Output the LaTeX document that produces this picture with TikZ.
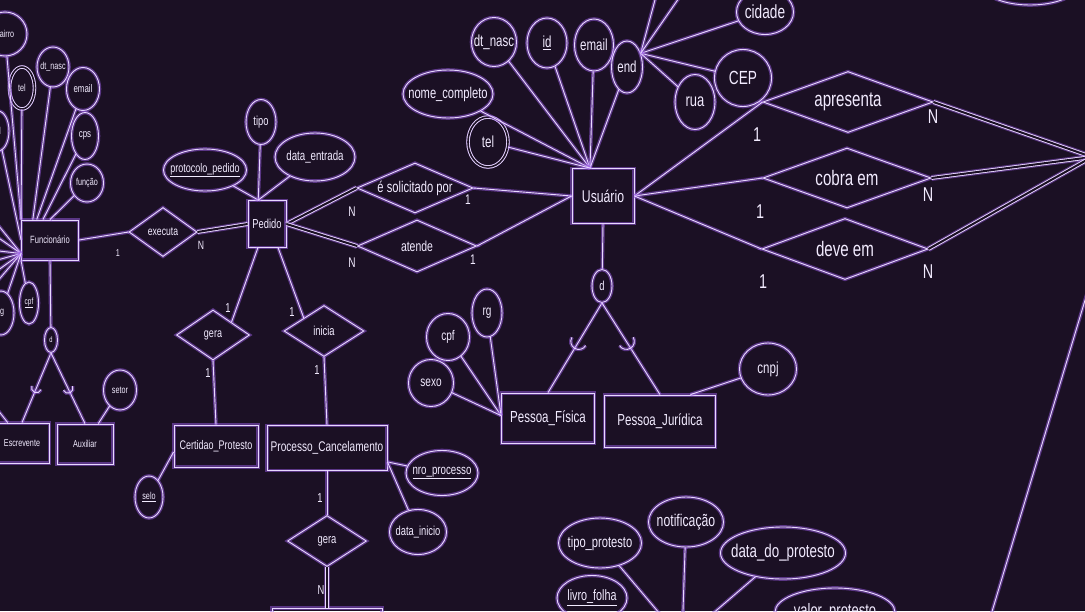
\documentclass[tikz,border=0pt]{standalone}
\usepackage{fontspec}
\setmainfont{Liberation Sans}[FakeStretch=0.72]
\usetikzlibrary{shapes.geometric, calc}
\definecolor{bgpurple}{HTML}{1B1024}
\definecolor{linelav}{HTML}{E8D8FF}
\definecolor{glowpur}{HTML}{9A5CE6}
\definecolor{txtlav}{HTML}{F2EBFF}

% subset mark: point, start angle, radius
\newcommand{\submark}[3]{%
  \draw[conn] (#1) ++(#2:#3) arc[start angle=#2, end angle=#2+180, radius=#3];}

\begin{document}
\begin{tikzpicture}[x=1pt, y=-1pt,
    box/.style={draw=linelav, line width=0.9pt, text=txtlav, inner sep=0pt,
      preaction={draw=glowpur, line width=3.6pt, opacity=.5}},
    ent/.style={box, rectangle},
    rel/.style={box, diamond, aspect=2.5},
    attr/.style={box, ellipse,
      execute at begin node={\hbox to 0pt\bgroup\hss},
      execute at end node={\hss\egroup}},
    multi/.style={attr, double=bgpurple, double distance=1.6pt},
    sz/.style 2 args={minimum width=#1, minimum height=#2},
    fs/.style={font=\fontsize{#1}{#1}\selectfont},
    card/.style={text=txtlav, inner sep=0pt},
    conn/.style={draw=linelav, line width=0.9pt,
      preaction={draw=glowpur, line width=3.6pt, opacity=.5}},
    dconn/.style={draw=linelav, line width=0.9pt, double=bgpurple, double distance=2pt,
      preaction={draw=glowpur, line width=6pt, opacity=.45}},
  ]

  % Background
  \useasboundingbox (0,0) rectangle (1085,611);
  \fill[bgpurple] (0,0) rectangle (1085,611);
  \clip (0,0) rectangle (1085,611);

  % === Entities ===
  \node[ent, sz={57}{40}, fs=10.5] (func) at (50,240) {Funcionário};
  \node[ent, sz={38}{47}, fs=13] (pedido) at (267,224) {Pedido};
  \node[ent, sz={62}{55}, fs=17] (usuario) at (603,196) {Usuário};
  \node[ent, sz={55}{40}, fs=10] (escrev) at (22,443) {Escrevente};
  \node[ent, sz={56}{40}, fs=10] (aux) at (85,444) {Auxiliar};
  \node[ent, sz={84}{42}, fs=12.5] (certidao) at (216,446) {Certidao\_Protesto};
  \node[ent, sz={120}{45}, fs=14] (processo) at (327,448) {Processo\_Cancelamento};
  \node[ent, sz={93}{50}, fs=16] (pfisica) at (548,418) {Pessoa\_Física};
  \node[ent, sz={111}{52}, fs=16] (pjuridica) at (660,421) {Pessoa\_Jurídica};
  \node[ent, sz={110}{44}] (procout) at (327,630) {};

  % === Relationships ===
  \node[rel, sz={68}{49}, fs=12] (executa) at (163,232) {executa};
  \node[rel, sz={116}{50}, fs=15.5] (solicita) at (415,188) {é solicitado por};
  \node[rel, sz={119}{52}, fs=14.5] (atende) at (417,246) {atende};
  \node[rel, sz={73}{50}, fs=12.5] (geraCert) at (213,335) {gera};
  \node[rel, sz={80}{51}, fs=13] (inicia) at (324,331) {inicia};
  \node[rel, sz={79}{51}, fs=13] (geraProc) at (327,541) {gera};
  \node[rel, sz={170}{61}, fs=21] (apresenta) at (848,102) {apresenta};
  \node[rel, sz={168}{60}, fs=21] (cobra) at (847,178) {cobra em};
  \node[rel, sz={166}{61}, fs=21] (deve) at (845,249) {deve em};

  % === Usuario attributes ===
  \node[attr, sz={45}{49}, fs=16] (uNasc) at (494,42) {dt\_nasc};
  \node[attr, sz={40}{50}, fs=16] (uId) at (547,43) {\underline{id}};
  \node[attr, sz={39}{52}, fs=16] (uEmail) at (594,45) {email};
  \node[attr, sz={31}{52}, fs=16] (uEnd) at (627,67) {end};
  \node[attr, sz={90}{48}, fs=15.5] (uNome) at (448,94) {nome\_completo};
  \node[multi, sz={40}{50}, fs=16] (uTel) at (488,142) {tel};
  \node[attr, sz={57}{45}, fs=19] (uCidade) at (765,12) {cidade};
  \node[attr, sz={57}{57}, fs=19] (uCep) at (743,78) {CEP};
  \node[attr, sz={40}{55}, fs=18] (uRua) at (695,102) {rua};
  \coordinate (uEndA) at (659,-15);
  \coordinate (uEndB) at (688,-15);

  % === Pedido attributes ===
  \node[attr, sz={83}{42}, fs=12.5] (pProt) at (205,170) {\underline{protocolo\_pedido}};
  \node[attr, sz={30}{45}, fs=13] (pTipo) at (261,122) {tipo};
  \node[attr, sz={80}{48}, fs=13.5] (pData) at (315,157) {data\_entrada};

  % === Funcionario attributes ===
  \node[attr, sz={44}{44}, fs=10] (fBairro) at (5,34) {bairro};
  \node[multi, sz={25}{42}, fs=10] (fTel) at (22,88) {tel};
  \node[attr, sz={32}{40}, fs=10] (fNasc) at (53,67) {dt\_nasc};
  \node[attr, sz={33}{43}, fs=11] (fEmail) at (83,89) {email};
  \node[attr, sz={27}{47}, fs=11] (fCps) at (85,136) {cps};
  \node[attr, sz={33}{38}, fs=10] (fFuncao) at (87,183) {função};
  \node[attr, sz={22}{40}, fs=10] (fId) at (-2,131) {id};
  \node[attr, sz={19}{42}, fs=9] (fCpf) at (29,303) {\underline{cpf}};
  \node[attr, sz={26}{44}, fs=10] (fRg) at (1,313) {rg};
  \node[attr, sz={13}{25}, fs=8] (fD) at (51,340) {d};
  \node[attr, sz={33}{40}, fs=10] (fSetor) at (120,390) {setor};

  % === other attributes ===
  \node[attr, sz={28}{42}, fs=10] (cSelo) at (149,497) {\underline{selo}};
  \node[attr, sz={72}{45}, fs=13.5] (pNro) at (442,473) {\underline{nro\_processo}};
  \node[attr, sz={57}{45}, fs=13] (pIni) at (418,532) {data\_inicio};
  \node[attr, sz={20}{33}, fs=13] (ud) at (602,286) {d};
  \node[attr, sz={43}{47}, fs=14] (pfCpf) at (448,337) {cpf};
  \node[attr, sz={30}{48}, fs=14] (pfRg) at (487,313) {rg};
  \node[attr, sz={45}{47}, fs=14] (pfSexo) at (431,383) {sexo};
  \node[attr, sz={57}{52}, fs=16] (pjCnpj) at (768,369) {cnpj};

  % protesto attributes (entity below the frame)
  \node[attr, sz={83}{50}, fs=15.5] (prTipo) at (600,543) {tipo\_protesto};
  \node[attr, sz={75}{50}, fs=17] (prNotif) at (686,522) {notificação};
  \node[attr, sz={125}{52}, fs=18.5] (prData) at (783,553) {data\_do\_protesto};
  \node[attr, sz={70}{45}, fs=15] (prLivro) at (592,598) {\underline{livro\_folha}};
  \node[attr, sz={120}{48}, fs=18] (prValor) at (835,612) {valor\_protesto};
  \coordinate (prConv) at (682,640);
  \node[attr, sz={95}{40}] (topR) at (1030,-15) {};

  % === Connectors ===
  \foreach \a in {uNasc, uId, uEmail, uEnd, uNome, uTel}
    \draw[conn] (\a) -- (usuario.115);
  \foreach \a in {uCidade, uCep, uRua, uEndA, uEndB}
    \draw[conn] (uEnd.45) -- (\a);

  \foreach \a in {pProt, pTipo, pData}
    \draw[conn] (\a) -- (pedido.110);

  \draw[conn] (func.east) -- (executa.west);
  \draw[dconn] (executa.east) -- (pedido.west);
  \draw[dconn] (pedido.east) -- (solicita.west);
  \draw[dconn] (pedido.east) -- (atende.west);
  \draw[conn] (solicita.east) -- (usuario.west);
  \draw[conn] (atende.east) -- (usuario.west);
  \draw[conn] (pedido.249) -- (geraCert.north east);
  \draw[conn] (pedido.295) -- (inicia.north west);
  \draw[conn] (geraCert.south) -- (certidao.north);
  \draw[conn] (inicia.south) -- (processo.north);
  \draw[conn] (processo.south) -- (geraProc.north);
  \draw[dconn] (geraProc.south) -- (procout.north);
  \draw[conn] (certidao.188) -- (cSelo);
  \draw[conn] (processo.347) -- (pNro);
  \draw[conn] (processo.347) -- (pIni);

  % Usuario to the right
  \coordinate (offR) at (1092,157);
  \foreach \r in {apresenta, cobra, deve} {
    \draw[conn] (usuario.east) -- (\r.west);
    \draw[dconn] (\r.east) -- (offR);
  }

  % specialization of Usuario
  \draw[conn] (usuario.south) -- (ud);
  \draw[conn] (ud.south) -- (pfisica.north);
  \draw[conn] (ud.south) -- (pjuridica.north);
  \coordinate (mkPF) at ($(ud.south)!0.43!(pfisica.north)$);
  \coordinate (mkPJ) at ($(ud.south)!0.42!(pjuridica.north)$);
  \submark{mkPF}{31}{8}
  \submark{mkPJ}{-31.6}{8}
  \foreach \a in {pfCpf, pfRg, pfSexo}
    \draw[conn] (\a) -- (pfisica.177);
  \draw[conn] (pjuridica.41) -- (pjCnpj);

  % Funcionario
  \draw[conn] (fBairro) -- (func.north west);
  \draw[conn] (fTel) -- (func.north west);
  \draw[conn] (fNasc) -- (func.130);
  \draw[conn] (fEmail) -- (func.123);
  \draw[conn] (fCps) -- (func.109);
  \draw[conn] (fFuncao) -- (func.north);
  \draw[conn] (fId) -- (func.west);
  \foreach \y [count=\i] in {215, 232, 250, 262, 276, 290} {
    \coordinate (fOff\i) at (-10,\y);
    \draw[conn] (func.205) -- (fOff\i);
  }
  \draw[conn] (func.205) -- (fRg);
  \draw[conn] (func.south west) -- (fCpf);
  \draw[conn] (func.south) -- (fD);
  \draw[conn] (fD.south) -- (escrev.north);
  \draw[conn] (fD.south) -- (aux.north);
  \coordinate (mkEs) at ($(fD.south)!0.5!(escrev.north)$);
  \coordinate (mkAu) at ($(fD.south)!0.5!(aux.north)$);
  \submark{mkEs}{22}{5}
  \submark{mkAu}{-25}{5}
  \draw[conn] (aux.57) -- (fSetor);
  \coordinate (esOff) at (-10,400);
  \draw[conn] (escrev.125) -- (esOff);

  % protesto attributes
  \foreach \a in {prTipo, prNotif, prData}
    \draw[conn] (\a) -- (prConv);

  % long line at right
  \coordinate (offS) at (1100,250);
  \coordinate (offT) at (988,625);
  \draw[conn] (offS) -- (offT);

  % === Cardinalities ===
  \node[card, fs=10] (kExF) at (118,253) {1};
  \node[card, fs=12] (kExP) at (201,245) {N};
  \node[card, fs=14] (kSoP) at (352,212) {N};
  \node[card, fs=14] (kSoU) at (468,200) {1};
  \node[card, fs=14] (kAtP) at (352,263) {N};
  \node[card, fs=14] (kAtU) at (473,260) {1};
  \node[card, fs=13] (kGcP) at (228,308) {1};
  \node[card, fs=13] (kGcC) at (208,373) {1};
  \node[card, fs=13] (kInP) at (292,312) {1};
  \node[card, fs=13] (kInC) at (317,370) {1};
  \node[card, fs=13] (kGpP) at (320,498) {1};
  \node[card, fs=13] (kGpN) at (321,590) {N};
  \node[card, fs=20] (kApU) at (757,135) {1};
  \node[card, fs=20] (kApN) at (933,117) {N};
  \node[card, fs=20] (kCoU) at (760,212) {1};
  \node[card, fs=20] (kCoN) at (928,195) {N};
  \node[card, fs=20] (kDeU) at (763,282) {1};
  \node[card, fs=20] (kDeN) at (928,272) {N};

\end{tikzpicture}
\end{document}
